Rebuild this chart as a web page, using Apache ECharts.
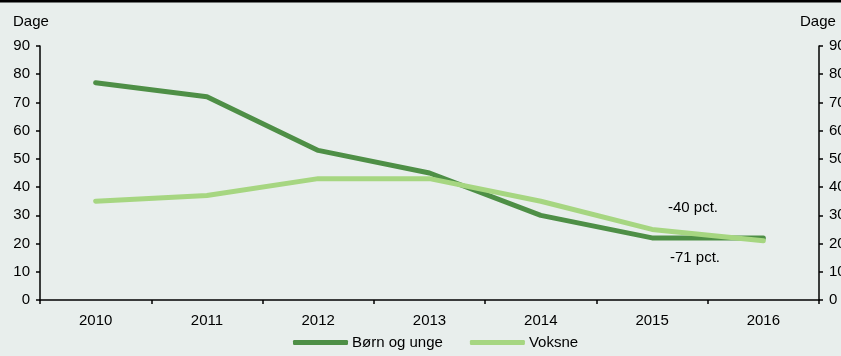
<!DOCTYPE html>
<html>
<head>
<meta charset="utf-8">
<script src="https://cdn.jsdelivr.net/npm/echarts@6/dist/echarts.min.js"></script>
<style>
  html, body { margin: 0; padding: 0; background: #e8eeec; }
  #chart { width: 841px; height: 356px; }
</style>
</head>
<body>
<div id="chart"></div>
<script>
// Antal dage, årsgennemsnit
const years = ['2010', '2011', '2012', '2013', '2014', '2015', '2016'];
const boernOgUnge = [77, 72, 53, 45, 30, 22, 22];
const voksne = [35, 37, 43, 43, 35, 25, 21];
const yTicks = { min: 0, max: 90, interval: 10 };

const FONT = '"Liberation Sans", Arial, sans-serif';
const TEXT = '#000';

const chart = echarts.init(document.getElementById('chart'), null, { renderer: 'canvas' });

const valueAxis = (pos) => ({
  type: 'value',
  position: pos,
  min: yTicks.min,
  max: yTicks.max,
  interval: yTicks.interval,
  axisLine: { show: true, lineStyle: { color: '#000', width: 1.5 } },
  axisTick: { show: true, length: 4, lineStyle: { color: '#000', width: 1.5 } },
  axisLabel: { color: TEXT, fontFamily: FONT, fontSize: 15, margin: 10 },
  splitLine: { show: false }
});

chart.setOption({
  backgroundColor: '#e8eeec',
  animation: false,
  grid: { left: 40, right: 22, top: 46, bottom: 56, containLabel: false, outerBoundsMode: 'none' },
  xAxis: {
    type: 'category',
    data: years,
    boundaryGap: true,
    axisLine: { lineStyle: { color: '#000', width: 1.5 } },
    axisTick: { show: true, length: 4, lineStyle: { color: '#000', width: 1.5 } },
    axisLabel: { color: TEXT, fontFamily: FONT, fontSize: 15, margin: 13 }
  },
  yAxis: [valueAxis('left'), valueAxis('right')],
  legend: {
    bottom: 1,
    left: 288,
    itemWidth: 55,
    itemHeight: 5,
    itemGap: 27,
    icon: 'roundRect',
    textStyle: { color: TEXT, fontFamily: FONT, fontSize: 15, padding: [0, 0, 0, -1] },
    data: ['Børn og unge', 'Voksne']
  },
  series: [
    {
      name: 'Børn og unge',
      type: 'line',
      data: boernOgUnge,
      symbol: 'none',
      lineStyle: { color: '#4e8f46', width: 5, cap: 'round', join: 'round' },
      itemStyle: { color: '#4e8f46' },
      z: 2
    },
    {
      name: 'Voksne',
      type: 'line',
      data: voksne,
      symbol: 'none',
      lineStyle: { color: '#a6d681', width: 5, cap: 'round', join: 'round' },
      itemStyle: { color: '#a6d681' },
      z: 3
    }
  ],
  graphic: [
    { type: 'rect', left: 0, top: 0, shape: { width: 841, height: 2.5 }, style: { fill: '#000' } },
    { type: 'text', left: 13, top: 14, style: { text: 'Dage', fill: TEXT, font: '15px ' + FONT } },
    { type: 'text', left: 800, top: 14, style: { text: 'Dage', fill: TEXT, font: '15px ' + FONT } },
    { type: 'text', left: 668, top: 200, style: { text: '-40 pct.', fill: TEXT, font: '15px ' + FONT } },
    { type: 'text', left: 670, top: 250, style: { text: '-71 pct.', fill: TEXT, font: '15px ' + FONT } }
  ]
});
</script>
</body>
</html>
